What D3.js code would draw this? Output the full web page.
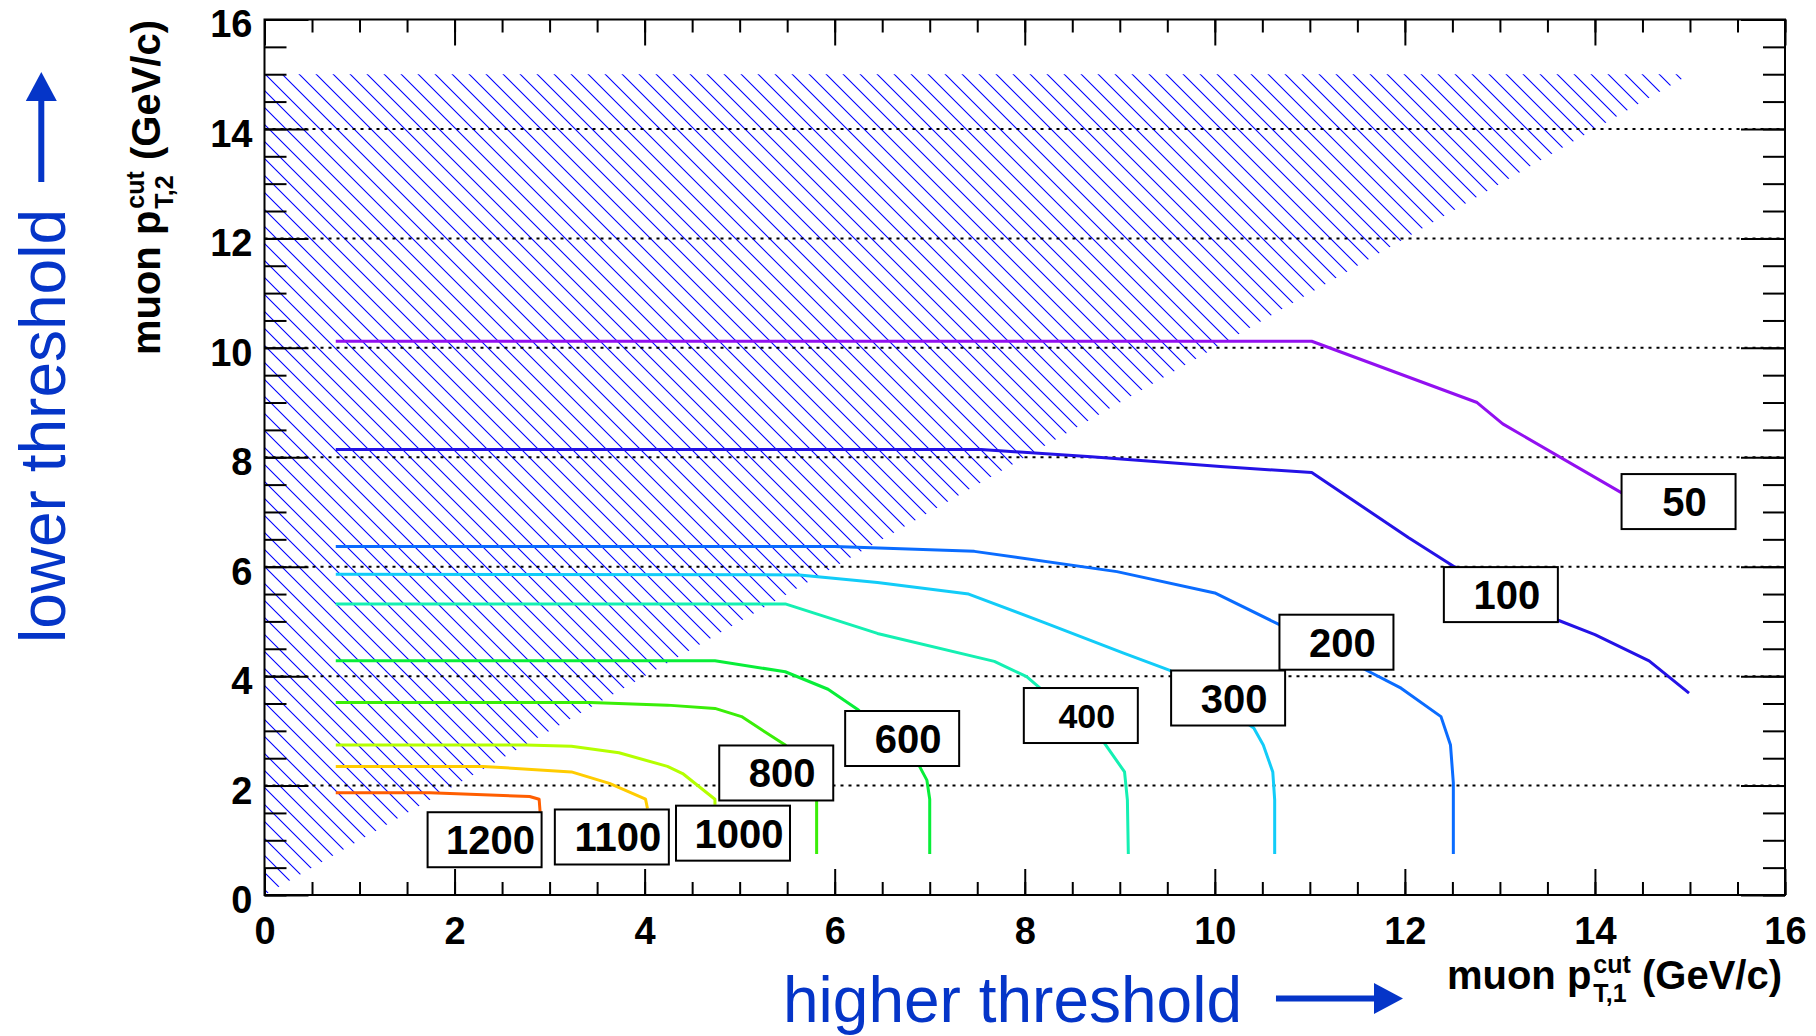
<!DOCTYPE html>
<html>
<head>
<meta charset="utf-8">
<script src="https://cdn.jsdelivr.net/npm/d3@7"></script>
<style>
  html, body { margin: 0; padding: 0; background: #fff; }
  svg { display: block; }
</style>
</head>
<body>
<svg id="chart" width="1816" height="1036"></svg>
<script>
// ---------------- data ----------------
const xTickLabels = [0, 2, 4, 6, 8, 10, 12, 14, 16];
const yTickLabels = [0, 2, 4, 6, 8, 10, 12, 14, 16];
const gridLevels = [2, 4, 6, 8, 10, 12, 14];

// excluded (hatched) region: pT,2 > pT,1
const hatchRegion = [[0, 0], [0, 15], [15, 15]];

// iso-contours (x = pT1 cut, y = pT2 cut)
const c50   = [[0.75,10.12],[11.02,10.12],[12.76,9.0],[13.03,8.61],[14.3,7.33]];
const c100  = [[0.75,8.14],[7.54,8.14],[8.70,8.01],[10.06,7.83],[11.02,7.72],[12.04,6.53],[12.52,6.0],[13.6,5.03],[14.0,4.76],[14.57,4.28],[14.99,3.69]];
const c200  = [[0.75,6.37],[6.0,6.37],[7.47,6.28],[8.97,5.91],[10.0,5.52],[10.68,4.94],[11.57,4.13],[11.96,3.78],[12.38,3.26],[12.48,2.74],[12.51,2.05],[12.51,0.75]];
const c300  = [[0.75,5.86],[5.63,5.85],[6.45,5.71],[7.41,5.50],[8.22,4.97],[9.04,4.42],[9.52,4.11],[10.41,3.05],[10.51,2.74],[10.61,2.25],[10.63,1.74],[10.63,0.75]];
const c400  = [[0.75,5.32],[5.48,5.32],[6.45,4.78],[7.68,4.27],[8.02,3.99],[8.84,2.77],[9.05,2.25],[9.08,1.74],[9.09,0.75]];
const c600  = [[0.75,4.28],[4.74,4.28],[5.48,4.08],[5.93,3.76],[6.25,3.38],[6.89,2.36],[6.97,2.1],[7.0,1.75],[7.0,0.75]];
const c800  = [[0.75,3.52],[3.43,3.52],[4.24,3.47],[4.74,3.41],[5.02,3.26],[5.48,2.74],[5.81,1.74],[5.81,0.75]];
const c1000 = [[0.75,2.74],[2.75,2.74],[3.23,2.72],[3.73,2.60],[4.24,2.35],[4.40,2.22],[4.74,1.75],[4.74,1.65]];
const c1100 = [[0.75,2.35],[2.30,2.35],[3.23,2.25],[3.63,2.04],[4.01,1.75],[4.03,1.58]];
const c1200 = [[0.75,1.87],[1.74,1.87],[2.79,1.80],[2.89,1.75],[2.90,1.52]];

const levels  = [50, 100, 200, 300, 400, 600, 800, 1000, 1100, 1200];
const curves  = [c50, c100, c200, c300, c400, c600, c800, c1000, c1100, c1200];
// label box centres (data coords)
const labelX  = [14.88, 13.01, 11.28, 10.14, 8.59, 6.71, 5.385, 4.93, 3.655, 2.316];
const labelY  = [7.19, 5.49, 4.62, 3.60, 3.28, 2.86, 2.23, 1.13, 1.06, 1.01];

// ---------------- styles ----------------
const colors = {
  50: "#9210f0", 100: "#2412e6", 200: "#0a6cff", 300: "#12ccf8", 400: "#14f0b2",
  600: "#08ee38", 800: "#3aee08", 1000: "#b4ff00", 1100: "#ffcc00", 1200: "#ff5e00"
};
const smallLabel = new Set([400]);
const BLUE = "#0535c8";
const FONT = "'Liberation Sans', Arial, Helvetica, sans-serif";

// ---------------- layout ----------------
const svg = d3.select("#chart");
const X0 = 264.5, X1 = 1785, Y0 = 895, Y1 = 19.5;
const x = d3.scaleLinear().domain([0, 16]).range([X0, X1]);
const y = d3.scaleLinear().domain([0, 16]).range([Y0, Y1]);

svg.append("rect").attr("width", 1816).attr("height", 1036).attr("fill", "#fff");

// hatch pattern
const defs = svg.append("defs");
const pat = defs.append("pattern")
  .attr("id", "hatch").attr("patternUnits", "userSpaceOnUse")
  .attr("width", 17).attr("height", 17)
  .attr("patternTransform", "translate(4,0)");
pat.append("path")
  .attr("d", "M0,0 L17,17 M-2,15 L2,19 M15,-2 L19,2")
  .attr("stroke", "#0000ff").attr("stroke-width", 1.1).attr("fill", "none");

svg.append("path")
  .datum(hatchRegion)
  .attr("d", d3.line().x(d => x(d[0])).y(d => y(d[1])).curve(d3.curveLinearClosed))
  .attr("fill", "url(#hatch)").attr("stroke", "none");

// dotted grid
svg.append("g").selectAll("line").data(gridLevels).join("line")
  .attr("x1", X0).attr("x2", X1)
  .attr("y1", d => y(d)).attr("y2", d => y(d))
  .attr("stroke", "#000").attr("stroke-width", 2)
  .attr("stroke-dasharray", "3,5");

// contour lines
const line = d3.line().x(d => x(d[0])).y(d => y(d[1]));
svg.append("g").selectAll("path").data(curves).join("path")
  .attr("d", d => line(d))
  .attr("fill", "none")
  .attr("stroke", (d, i) => colors[levels[i]])
  .attr("stroke-width", 3)
  .attr("stroke-linejoin", "round");

// label boxes
const BW = 114, BH = 55;
const lab = svg.append("g").selectAll("g").data(levels).join("g")
  .attr("transform", (d, i) => `translate(${x(labelX[i])},${y(labelY[i])})`);
lab.append("rect")
  .attr("x", -BW / 2).attr("y", -BH / 2).attr("width", BW).attr("height", BH)
  .attr("fill", "#fff").attr("stroke", "#000").attr("stroke-width", 2);
lab.append("text")
  .attr("x", 6)
  .attr("y", d => smallLabel.has(d) ? 12 : 14.5)
  .attr("text-anchor", "middle")
  .attr("font-family", FONT).attr("font-weight", "bold")
  .attr("font-size", d => smallLabel.has(d) ? 34 : 40)
  .text(d => d);

// axes
const minor = d3.range(0, 16.001, 0.5);
function styleAxis(g) {
  g.select(".domain").remove();
  g.selectAll(".tick line").attr("stroke", "#000").attr("stroke-width", 2);
  g.selectAll("text").attr("font-family", FONT).attr("font-weight", "bold")
    .attr("font-size", 38).attr("fill", "#000");
}
// bottom
svg.append("g").attr("transform", `translate(0,${Y0})`)
  .call(d3.axisBottom(x).tickValues(minor).tickSizeInner(-13).tickSizeOuter(0).tickFormat(""))
  .call(styleAxis);
svg.append("g").attr("transform", `translate(0,${Y0})`)
  .call(d3.axisBottom(x).tickValues(xTickLabels).tickSizeInner(-26).tickSizeOuter(0).tickPadding(22).tickFormat(d3.format("d")))
  .call(styleAxis);
// top
svg.append("g").attr("transform", `translate(0,${Y1})`)
  .call(d3.axisTop(x).tickValues(minor).tickSizeInner(-13).tickSizeOuter(0).tickFormat(""))
  .call(styleAxis);
svg.append("g").attr("transform", `translate(0,${Y1})`)
  .call(d3.axisTop(x).tickValues(xTickLabels).tickSizeInner(-26).tickSizeOuter(0).tickFormat(""))
  .call(styleAxis);
// left
svg.append("g").attr("transform", `translate(${X0},0)`)
  .call(d3.axisLeft(y).tickValues(minor).tickSizeInner(-22).tickSizeOuter(0).tickFormat(""))
  .call(styleAxis);
const yl = svg.append("g").attr("transform", `translate(${X0},0)`)
  .call(d3.axisLeft(y).tickValues(yTickLabels).tickSizeInner(-44).tickSizeOuter(0).tickPadding(12).tickFormat(d3.format("d")))
  .call(styleAxis);
yl.selectAll("text").attr("dy", "0.46em");
// right
svg.append("g").attr("transform", `translate(${X1},0)`)
  .call(d3.axisRight(y).tickValues(minor).tickSizeInner(-22).tickSizeOuter(0).tickFormat(""))
  .call(styleAxis);
svg.append("g").attr("transform", `translate(${X1},0)`)
  .call(d3.axisRight(y).tickValues(yTickLabels).tickSizeInner(-44).tickSizeOuter(0).tickFormat(""))
  .call(styleAxis);

// frame
svg.append("rect")
  .attr("x", X0).attr("y", Y1).attr("width", X1 - X0).attr("height", Y0 - Y1)
  .attr("fill", "none").attr("stroke", "#000").attr("stroke-width", 2);

// axis titles: muon p_{T,i}^{cut} (GeV/c)
function axisTitle(parent, sub) {
  const g = parent.append("g");
  const base = { "font-family": FONT, "font-weight": "bold", "fill": "#000" };
  const mk = (txt, size, tx, ty) => {
    const t = g.append("text").attr("x", tx).attr("y", ty).attr("font-size", size).text(txt);
    Object.entries(base).forEach(([k, v]) => t.attr(k, v));
    t.attr("xml:space", "preserve").style("white-space", "pre");
    return t;
  };
  const t1 = mk("muon p", 40, 0, 0);
  const w1 = t1.node().getComputedTextLength();
  const tSup = mk("cut", 25, w1 + 2, -16);
  const tSub = mk(sub, 25, w1 + 2, 13);
  const ws = Math.max(tSup.node().getComputedTextLength(), tSub.node().getComputedTextLength());
  const t3 = mk(" (GeV/c)", 40, w1 + 2 + ws, 0);
  const total = w1 + 2 + ws + t3.node().getComputedTextLength();
  g.attr("transform", `translate(${-total},0)`);
}
axisTitle(svg.append("g").attr("transform", `translate(1782,989)`), "T,1");
axisTitle(svg.append("g").attr("transform", `translate(160,20) rotate(-90)`), "T,2");

// blue annotations
const hx = 783, hy = 1021.7;
const ht = svg.append("text").attr("x", hx).attr("y", hy)
  .attr("font-family", FONT).attr("font-size", 64).attr("fill", BLUE)
  .text("higher threshold");
const hLen = ht.node().getComputedTextLength();
const ay = 998.5, ax0 = hx + hLen + 34;
svg.append("line").attr("x1", ax0).attr("x2", ax0 + 99).attr("y1", ay).attr("y2", ay)
  .attr("stroke", BLUE).attr("stroke-width", 6);
svg.append("path")
  .attr("d", `M${ax0 + 98},${ay - 15.5} L${ax0 + 127},${ay} L${ax0 + 98},${ay + 15.5} Z`)
  .attr("fill", BLUE);

const lx = 65, ly = 643;
const lt = svg.append("text").attr("transform", `translate(${lx},${ly}) rotate(-90)`)
  .attr("font-family", FONT).attr("font-size", 64).attr("fill", BLUE)
  .text("lower threshold");
const lLen = lt.node().getComputedTextLength();
const vx = 41.3, vy0 = ly - lLen - 27;
svg.append("line").attr("x1", vx).attr("x2", vx).attr("y1", vy0).attr("y2", vy0 - 82)
  .attr("stroke", BLUE).attr("stroke-width", 6);
svg.append("path")
  .attr("d", `M${vx - 15.5},${vy0 - 81} L${vx},${vy0 - 110} L${vx + 15.5},${vy0 - 81} Z`)
  .attr("fill", BLUE);
</script>
</body>
</html>
